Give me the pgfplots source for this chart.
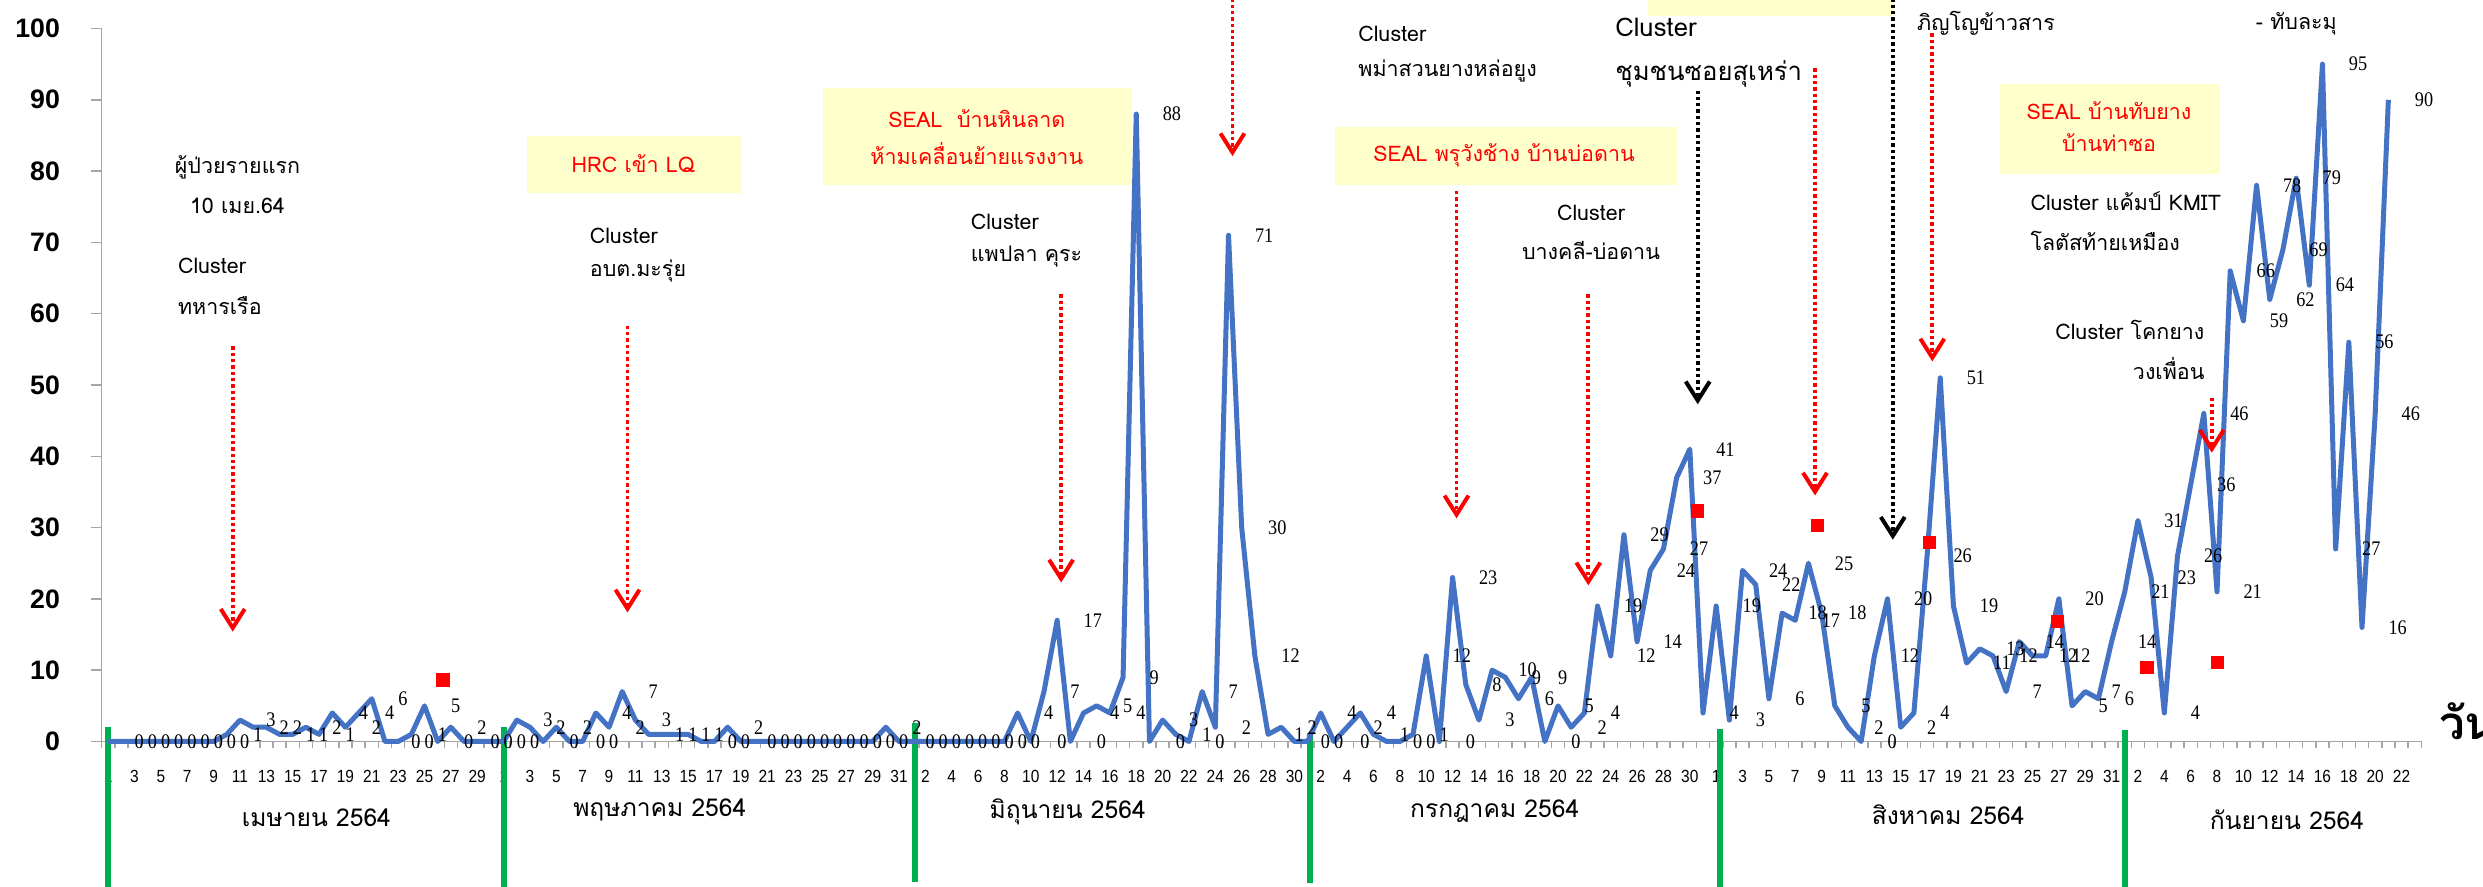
\documentclass[border=0pt]{standalone}
\usepackage{fontspec}
\usepackage{pgfplots}
\pgfplotsset{compat=1.18}
\usetikzlibrary{arrows.meta}
\setmainfont{Liberation Sans}
\newfontfamily\thaifont[Script=Thai]{Loma}
\newfontfamily\lblfont[FakeStretch=0.88]{Liberation Serif}
\newfontfamily\tickfont[FakeStretch=0.88]{Liberation Sans}
\definecolor{lineblue}{HTML}{4472C4}
\definecolor{xlgreen}{HTML}{00B050}
\definecolor{boxyellow}{HTML}{FFFFCC}
\definecolor{axisgray}{HTML}{A6A6A6}
\newcommand{\ann}{\thaifont\fontsize{6.1}{7}\selectfont}
\newcommand{\annbig}{\thaifont\fontsize{7.3}{8.5}\selectfont}
\newcommand{\mon}{\thaifont\fontsize{7}{8}\selectfont}
\begin{document}
\begin{tikzpicture}[
  redarr/.style={draw=red, line width=0.38mm, dash pattern=on 0.33mm off 0.3mm,
     -{Straight Barb[length=1.9mm,width=2.4mm,line width=0.4mm]}},
  blkarr/.style={redarr, draw=black},
  an/.style={font=\ann, inner sep=0pt},
]
\begin{axis}[
  at={(1.016cm,1.455cm)}, anchor=south west,
  scale only axis, width=23.197cm, height=7.13cm,
  xmin=-0.5, xmax=175.5, ymin=0, ymax=100,
  clip=false,
  axis x line*=bottom, axis y line*=left,
  axis line style={axisgray, line width=0.15mm},
  tick align=outside,
  major tick length=1.1mm, minor tick length=0.7mm,
  tick style={axisgray, line width=0.15mm},
  xtick={0,2,...,174},
  xticklabels={1,3,5,7,9,11,13,15,17,19,21,23,25,27,29,1,3,5,7,9,11,13,15,17,19,21,23,25,27,29,31,2,4,6,8,10,12,14,16,18,20,22,24,26,28,30,2,4,6,8,10,12,14,16,18,20,22,24,26,28,30,1,3,5,7,9,11,13,15,17,19,21,23,25,27,29,31,2,4,6,8,10,12,14,16,18,20,22},
  minor xtick={-0.5,0.5,...,175.5},
  major x tick style={draw=none},
  ytick={0,10,...,100},
  yticklabels={0,10,20,30,40,50,60,70,80,90,100},
  xticklabel style={font=\tickfont\fontsize{5}{6}\selectfont, anchor=center, yshift=-2.4mm},
  yticklabel style={font=\bfseries\fontsize{7.6}{8}\selectfont, anchor=east, inner sep=0pt, xshift=-3.0mm},
  /pgf/number format/assume math mode=true,
]
% yellow boxes
\fill[boxyellow] (31.8,76.9) rectangle (48.1,84.9);
\fill[boxyellow] (54.2,78.0) rectangle (77.7,91.6);
\fill[boxyellow] (93.1,78.0) rectangle (119.0,86.2);
\fill[boxyellow] (116.8,101.8) rectangle (135.4,106);
\fill[boxyellow] (143.5,79.6) rectangle (160.2,92.2);

% green month separators
\addplot[xlgreen, line width=0.6mm, forget plot] coordinates {(0,2) (0,-21)};
\addplot[xlgreen, line width=0.6mm, forget plot] coordinates {(30,2) (30,-21)};
\addplot[xlgreen, line width=0.6mm, forget plot] coordinates {(61.2,2.6) (61.2,-19.7)};
\addplot[xlgreen, line width=0.6mm, forget plot] coordinates {(91.2,1.2) (91.2,-19.8)};
\addplot[xlgreen, line width=0.6mm, forget plot] coordinates {(122.3,1.7) (122.3,-21)};
\addplot[xlgreen, line width=0.6mm, forget plot] coordinates {(153,1.6) (153,-21)};

% daily cases
\addplot[lineblue, line width=0.5mm, line join=round, mark=none,
  nodes near coords,
  every node near coord/.append style={anchor=west, inner sep=0pt, xshift=2.4mm,
     font=\lblfont\fontsize{5.9}{6}\selectfont, text=black}]
  table[row sep=\\] {
x y\\
0 0\\ 1 0\\ 2 0\\ 3 0\\ 4 0\\ 5 0\\ 6 0\\ 7 0\\ 8 0\\ 9 1\\ 10 3\\ 11 2\\ 12 2\\ 13 1\\ 14 1\\
15 2\\ 16 1\\ 17 4\\ 18 2\\ 19 4\\ 20 6\\ 21 0\\ 22 0\\ 23 1\\ 24 5\\ 25 0\\ 26 2\\ 27 0\\ 28 0\\ 29 0\\
30 0\\ 31 3\\ 32 2\\ 33 0\\ 34 2\\ 35 0\\ 36 0\\ 37 4\\ 38 2\\ 39 7\\ 40 3\\ 41 1\\ 42 1\\ 43 1\\ 44 1\\
45 0\\ 46 0\\ 47 2\\ 48 0\\ 49 0\\ 50 0\\ 51 0\\ 52 0\\ 53 0\\ 54 0\\ 55 0\\ 56 0\\ 57 0\\ 58 0\\ 59 2\\ 60 0\\
61 0\\ 62 0\\ 63 0\\ 64 0\\ 65 0\\ 66 0\\ 67 0\\ 68 0\\ 69 4\\ 70 0\\ 71 7\\ 72 17\\ 73 0\\ 74 4\\ 75 5\\
76 4\\ 77 9\\ 78 88\\ 79 0\\ 80 3\\ 81 1\\ 82 0\\ 83 7\\ 84 2\\ 85 71\\ 86 30\\ 87 12\\ 88 1\\ 89 2\\ 90 0\\
91 0\\ 92 4\\ 93 0\\ 94 2\\ 95 4\\ 96 1\\ 97 0\\ 98 0\\ 99 1\\ 100 12\\ 101 0\\ 102 23\\ 103 8\\ 104 3\\ 105 10\\
106 9\\ 107 6\\ 108 9\\ 109 0\\ 110 5\\ 111 2\\ 112 4\\ 113 19\\ 114 12\\ 115 29\\ 116 14\\ 117 24\\ 118 27\\ 119 37\\ 120 41\\ 121 4\\
122 19\\ 123 3\\ 124 24\\ 125 22\\ 126 6\\ 127 18\\ 128 17\\ 129 25\\ 130 18\\ 131 5\\ 132 2\\ 133 0\\ 134 12\\ 135 20\\ 136 2\\
137 4\\ 138 26\\ 139 51\\ 140 19\\ 141 11\\ 142 13\\ 143 12\\ 144 7\\ 145 14\\ 146 12\\ 147 12\\ 148 20\\ 149 5\\ 150 7\\ 151 6\\ 152 14\\
153 21\\ 154 31\\ 155 23\\ 156 4\\ 157 26\\ 158 36\\ 159 46\\ 160 21\\ 161 66\\ 162 59\\ 163 78\\ 164 62\\ 165 69\\ 166 79\\ 167 64\\
168 95\\ 169 27\\ 170 56\\ 171 16\\ 172 46\\ 173 90\\
};

% red square markers
\addplot[only marks, mark=square*, mark size=0.6mm, color=red, forget plot]
  coordinates {(25.4,8.6) (120.6,32.3) (129.7,30.3) (138.2,27.9) (147.9,16.8) (154.7,10.4) (160.05,11.1)};

% arrows
\draw[redarr] (9.45,55.4) -- (9.45,15.4);
\draw[redarr] (39.4,58.3) -- (39.4,18.1);
\draw[redarr] (72.3,62.7) -- (72.3,22.3);
\draw[redarr] (85.3,106) -- (85.3,82.1);
\draw[redarr] (102.3,77.2) -- (102.3,31.3);
\draw[redarr] (112.3,62.7) -- (112.3,21.9);
\draw[redarr] (129.5,94.4) -- (129.5,34.5);
\draw[redarr] (138.4,99.3) -- (138.4,53.3);
\draw[redarr] (159.6,48.2) -- (159.6,40.5);
\draw[blkarr] (120.6,91.3) -- (120.6,47.3);
\draw[blkarr] (135.4,106) -- (135.4,28.3);

% annotations (black)
\node[an] at (9.81,80.5) {ผู้ป่วยรายแรก};
\node[an] at (9.81,75.1) {10 เมย.64};
\node[an, anchor=west] at (5.25,66.7) {Cluster};
\node[an, anchor=west] at (5.25,61.1) {ทหารเรือ};
\node[an, anchor=west] at (36.5,70.9) {Cluster};
\node[an, anchor=west] at (36.5,66.0) {อบต.มะรุ่ย};
\node[an, anchor=west] at (65.4,72.9) {Cluster};
\node[an, anchor=west] at (65.4,68.0) {แพปลา คุระ};
\node[an, anchor=west] at (94.8,99.3) {Cluster};
\node[an, anchor=west] at (94.8,94.0) {พม่าสวนยางหล่อยูง};
\node[an] at (112.5,74.2) {Cluster};
\node[an] at (112.5,68.9) {บางคลี-บ่อดาน};
\node[an, font=\annbig, anchor=west] at (114.3,100.2) {Cluster};
\node[an, font=\annbig, anchor=west] at (114.3,93.6) {ชุมชนซอยสุเหร่า};
\node[an, anchor=west] at (137.2,100.7) {ภิญโญข้าวสาร};
\node[an, anchor=west] at (162.9,100.7) {- ทับละมุ};
\node[an, anchor=west] at (145.8,75.8) {Cluster แค้มป์ KMIT};
\node[an, anchor=west] at (145.8,70.2) {โลตัสท้ายเหมือง};
\node[an, anchor=east] at (159.1,57.7) {Cluster โคกยาง};
\node[an, anchor=east] at (159.1,52.3) {วงเพื่อน};

% annotations (red, in boxes)
\node[an, text=red] at (39.85,81.1) {HRC เข้า LQ};
\node[an, text=red] at (65.9,87.3) {SEAL\ \ บ้านหินลาด};
\node[an, text=red] at (65.9,82.5) {ห้ามเคลื่อนย้ายแรงงาน};
\node[an, text=red] at (105.9,82.2) {SEAL พรุวังช้าง บ้านบ่อดาน};
\node[an, text=red] at (151.8,88.5) {SEAL บ้านทับยาง};
\node[an, text=red] at (151.8,84.0) {บ้านท่าซอ};

% month labels
\node[font=\mon] at (15.8,-10.7) {เมษายน 2564};
\node[font=\mon] at (41.85,-9.6) {พฤษภาคม 2564};
\node[font=\mon] at (72.8,-9.8) {มิถุนายน 2564};
\node[font=\mon] at (105.2,-9.8) {กรกฎาคม 2564};
\node[font=\mon] at (139.6,-10.3) {สิงหาคม 2564};
\node[font=\mon] at (165.3,-11.0) {กันยายน 2564};

% axis unit label
\node[font=\thaifont\bfseries\fontsize{13}{15}\selectfont, anchor=west, inner sep=0pt] at (176.8,2.9) {วัน};
\end{axis}
\pgfresetboundingbox
\path[use as bounding box] (0,0) rectangle (24.83cm,8.87cm);
\end{tikzpicture}
\end{document}
